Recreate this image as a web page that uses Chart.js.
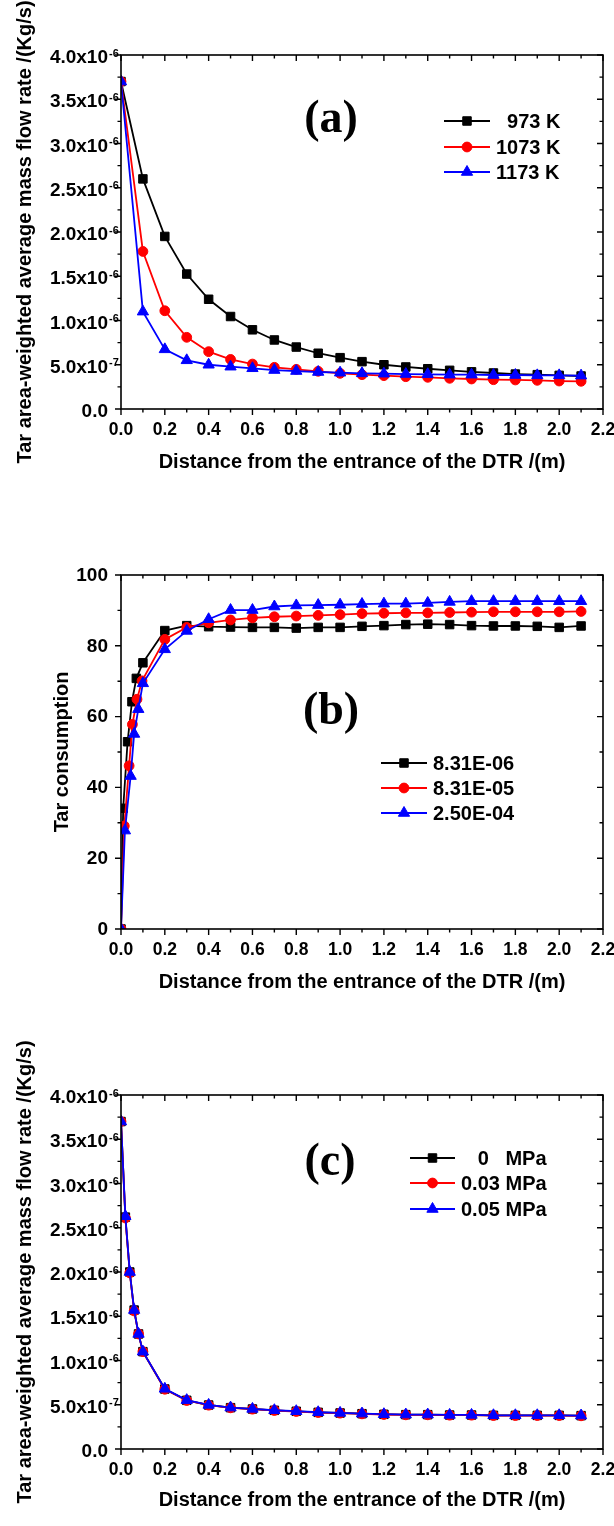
<!DOCTYPE html>
<html><head><meta charset="utf-8">
<script src="https://cdn.jsdelivr.net/npm/chart.js@4.4.1/dist/chart.umd.min.js"></script>
<style>
html,body{margin:0;padding:0;background:#fff;width:614px;height:1526px;overflow:hidden}
canvas{position:absolute;left:0}
</style></head><body>
<canvas id="ca" width="614" height="510" style="top:0"></canvas>
<canvas id="cb" width="614" height="510" style="top:510px"></canvas>
<canvas id="cc" width="614" height="506" style="top:1020px"></canvas>
<script>
// ---------------- DATA ----------------
const xTickLabels = ["0.0","0.2","0.4","0.6","0.8","1.0","1.2","1.4","1.6","1.8","2.0","2.2"];
const yTickMainA = ["0.0","5.0x10","1.0x10","1.5x10","2.0x10","2.5x10","3.0x10","3.5x10","4.0x10"];
const yTickExpA  = ["","-7","-6","-6","-6","-6","-6","-6","-6"];
const yTickLabelsB = ["0","20","40","60","80","100"];

// Panel (a): mass flow rate (x10^-6 kg/s) vs distance (m)
const distA = [0,0.1,0.2,0.3,0.4,0.5,0.6,0.7,0.8,0.9,1.0,1.1,1.2,1.3,1.4,1.5,1.6,1.7,1.8,1.9,2.0,2.1];
const flow973  = [3.70,2.60,1.95,1.525,1.24,1.045,0.895,0.78,0.70,0.63,0.58,0.535,0.50,0.475,0.455,0.437,0.42,0.407,0.395,0.388,0.38,0.373];
const flow1073 = [3.70,1.78,1.11,0.81,0.648,0.56,0.508,0.471,0.448,0.426,0.403,0.388,0.377,0.365,0.358,0.347,0.339,0.331,0.328,0.324,0.316,0.313];
const flow1173 = [3.70,1.10,0.674,0.55,0.50,0.478,0.46,0.44,0.429,0.418,0.41,0.403,0.399,0.395,0.392,0.388,0.388,0.384,0.384,0.38,0.38,0.377];

// Panel (b): tar consumption vs distance (m)
const distB1 = [0,0.01,0.03,0.05,0.07,0.1,0.2,0.3,0.4,0.5,0.6,0.7,0.8,0.9,1.0,1.1,1.2,1.3,1.4,1.5,1.6,1.7,1.8,1.9,2.0,2.1];
const cons1  = [0,34.1,52.9,64.2,70.8,75.2,84.3,85.7,85.4,85.3,85.2,85.2,85.0,85.2,85.2,85.5,85.7,86.0,86.1,86.0,85.7,85.6,85.6,85.5,85.2,85.6];
const distB2 = [0,0.015,0.037,0.052,0.073,0.096,0.2,0.3,0.4,0.5,0.6,0.7,0.8,0.9,1.0,1.1,1.2,1.3,1.4,1.5,1.6,1.7,1.8,1.9,2.0,2.1];
const cons2  = [0,29.1,46.1,57.8,64.9,70.1,81.8,85.2,86.5,87.3,87.9,88.2,88.4,88.6,88.8,89.1,89.2,89.3,89.3,89.4,89.5,89.6,89.6,89.6,89.6,89.7];
const distB3 = [0,0.018,0.044,0.06,0.079,0.1,0.2,0.3,0.4,0.5,0.6,0.7,0.8,0.9,1.0,1.1,1.2,1.3,1.4,1.5,1.6,1.7,1.8,1.9,2.0,2.1];
const cons3  = [0,27.8,43.2,55.1,62.1,69.4,79.0,84.2,87.5,90.1,90.1,91.1,91.4,91.5,91.6,91.8,91.9,91.9,92.1,92.4,92.6,92.6,92.6,92.6,92.6,92.6];

// Panel (c): mass flow rate (x10^-6 kg/s) vs distance (m)
const distC = [0,0.02,0.04,0.06,0.08,0.1,0.2,0.3,0.4,0.5,0.6,0.7,0.8,0.9,1.0,1.1,1.2,1.3,1.4,1.5,1.6,1.7,1.8,1.9,2.0,2.1];
const flow0MPa   = [3.70,2.62,2.00,1.57,1.30,1.10,0.678,0.55,0.497,0.467,0.452,0.437,0.426,0.414,0.407,0.399,0.392,0.388,0.388,0.384,0.384,0.380,0.380,0.380,0.380,0.377];
const flow003MPa = [3.70,2.61,1.99,1.56,1.30,1.10,0.675,0.548,0.495,0.465,0.450,0.435,0.424,0.412,0.405,0.397,0.390,0.386,0.386,0.382,0.382,0.378,0.378,0.378,0.378,0.375];
const flow005MPa = [3.70,2.63,2.00,1.57,1.30,1.10,0.680,0.552,0.498,0.468,0.453,0.438,0.427,0.415,0.408,0.400,0.393,0.389,0.389,0.385,0.385,0.381,0.381,0.381,0.381,0.378];

const namesA = ["  973 K","1073 K","1173 K"];
const namesB = ["8.31E-06","8.31E-05","2.50E-04"];
const namesC = ["   0   MPa","0.03 MPa","0.05 MPa"];

// ---------------- STYLE / BUILD ----------------
const SANS = "'Liberation Sans', Arial, sans-serif";
const SERIF = "'Liberation Serif', 'Times New Roman', serif";
const STY = [
  {color:'#000000', style:'rect', r:6.0, order:3},
  {color:'#ff0000', style:'circle', r:4.9, order:2},
  {color:'#0000ff', style:'triangle', r:6.5, order:1}
];
const LW = 1.8;

function ds(label, xs, ys, k){
  const s = STY[k];
  return {label, data: xs.map((x,i)=>({x, y: ys[i]})), borderColor:s.color, backgroundColor:s.color,
    pointBackgroundColor:s.color, pointBorderColor:s.color, pointStyle:s.style, pointRadius:s.r,
    pointHoverRadius:s.r, pointBorderWidth:1, borderWidth:LW, showLine:true, tension:0, order:s.order};
}

function drawMarker(ctx, style, r, x, y){
  ctx.beginPath();
  if(style==='rect'){const s=Math.SQRT1_2*r; ctx.rect(x-s,y-s,2*s,2*s);}
  else if(style==='circle'){ctx.arc(x,y,r,0,Math.PI*2);}
  else {
    const a1=2*Math.PI/3, a2=4*Math.PI/3;
    ctx.moveTo(x, y-r);
    ctx.lineTo(x+Math.sin(a1)*r, y-Math.cos(a1)*r);
    ctx.lineTo(x+Math.sin(a2)*r, y-Math.cos(a2)*r);
    ctx.closePath();
  }
  ctx.fill(); ctx.stroke();
}

function panelPlugin(p){
  return {
    id:'panel_'+p.id,
    afterDraw(chart){
      const {ctx, chartArea:a, scales:{x, y}} = chart;
      ctx.save();
      // frame
      ctx.strokeStyle='#000'; ctx.lineWidth=1.6;
      ctx.strokeRect(a.left, a.top, a.right-a.left, a.bottom-a.top);
      // ticks (major + one minor between majors)
      ctx.lineWidth=1.4;
      ctx.beginPath();
      const xt = x.ticks.map(t=>t.value), yt = y.ticks.map(t=>t.value);
      const MJ=6, MN=3.5;
      xt.forEach((v,i)=>{
        const px=x.getPixelForValue(v);
        ctx.moveTo(px,a.bottom); ctx.lineTo(px,a.bottom+MJ);
        ctx.moveTo(px,a.top); ctx.lineTo(px,a.top+MJ);
        if(i<xt.length-1){
          const pm=x.getPixelForValue((v+xt[i+1])/2);
          ctx.moveTo(pm,a.bottom); ctx.lineTo(pm,a.bottom+MN);
          ctx.moveTo(pm,a.top); ctx.lineTo(pm,a.top+MN);
        }
      });
      yt.forEach((v,i)=>{
        const py=y.getPixelForValue(v);
        ctx.moveTo(a.left,py); ctx.lineTo(a.left-MJ,py);
        ctx.moveTo(a.right,py); ctx.lineTo(a.right-MJ,py);
        if(i<yt.length-1){
          const pm=y.getPixelForValue((v+yt[i+1])/2);
          ctx.moveTo(a.left,pm); ctx.lineTo(a.left-MN,pm);
          ctx.moveTo(a.right,pm); ctx.lineTo(a.right-MN,pm);
        }
      });
      ctx.stroke();
      // superscripts on y tick labels
      if(p.yExp){
        ctx.fillStyle='#000'; ctx.textAlign='left'; ctx.textBaseline='middle';
        ctx.font='bold 11px '+SANS;
        yt.forEach((v,i)=>{
          if(!p.yExp[i]) return;
          const py=y.getPixelForValue(v);
          ctx.fillText(p.yExp[i], a.left-12, py-1.5);
        });
      }
      // legend
      const L=p.legend;
      chart.data.datasets.forEach((d,i)=>{
        const ry=L.rows[i], s=STY[i];
        ctx.strokeStyle=s.color; ctx.fillStyle=s.color; ctx.lineWidth=LW;
        ctx.beginPath(); ctx.moveTo(L.x0,ry); ctx.lineTo(L.x1,ry); ctx.stroke();
        ctx.lineWidth=1;
        drawMarker(ctx, s.style, s.r, (L.x0+L.x1)/2, ry);
        ctx.fillStyle='#000'; ctx.font='bold 20px '+SANS; ctx.textAlign='left'; ctx.textBaseline='middle';
        ctx.fillText(d.label, L.tx, ry+1);
      });
      // panel label
      ctx.fillStyle='#000'; ctx.font='bold 46px '+SERIF; ctx.textAlign='center'; ctx.textBaseline='middle';
      ctx.fillText(p.label.text, p.label.x, p.label.y);
      ctx.restore();
    }
  };
}

function makeChart(p){
  const H = document.getElementById(p.canvas).height;
  return new Chart(document.getElementById(p.canvas), {
    type:'scatter',
    data:{datasets:p.datasets},
    options:{
      responsive:false, animation:false, devicePixelRatio:1,
      layout:{padding:{top:p.top, right:11, left:0, bottom:0}},
      plugins:{legend:{display:false}, tooltip:{enabled:false}},
      scales:{
        x:{type:'linear', min:0, max:2.2,
           ticks:{stepSize:0.2, autoSkip:false, maxRotation:0, padding:11, color:'#000',
                  font:{family:SANS, size:17.5, weight:'bold'}, callback:(v,i)=>xTickLabels[i]},
           grid:{display:false, drawTicks:false}, border:{display:false},
           title:{display:true, text:'Distance from the entrance of the DTR /(m)', color:'#000',
                  font:{family:SANS, size:20, weight:'bold'}, padding:{top:0,bottom:p.xTitlePad}},
           afterFit:(s)=>{s.height = H - p.bottom; s.paddingLeft = 0; s.paddingRight = 0;}},
        y:{type:'linear', min:p.yMin, max:p.yMax,
           ticks:{stepSize:p.yStep, autoSkip:false, padding:13, color:'#000', labelOffset:p.yLabelOffset,
                  font:{family:SANS, size:19, weight:'bold'}, callback:(v,i)=>p.yLabels[i]},
           grid:{display:false, drawTicks:false}, border:{display:false},
           title:{display:true, text:p.yTitle, color:'#000',
                  font:{family:SANS, size:20, weight:'bold'}, padding:{top:p.yTitlePad,bottom:0}},
           afterFit:(s)=>{s.width = 121; s.paddingTop = 0; s.paddingBottom = 0;}}
      }
    },
    plugins:[panelPlugin(p)]
  });
}

makeChart({id:'a', canvas:'ca', top:55, bottom:409, xTitlePad:36,
  yMin:0, yMax:4, yStep:0.5, yLabels:yTickMainA, yExp:yTickExpA, yTitlePad:13, yLabelOffset:3,
  yTitle:'Tar area-weighted average mass flow rate /(Kg/s)',
  datasets:[ds(namesA[0],distA,flow973,0), ds(namesA[1],distA,flow1073,1), ds(namesA[2],distA,flow1173,2)],
  legend:{x0:444, x1:490, tx:496, rows:[121,147,172]},
  label:{text:'(a)', x:331, y:120}});

makeChart({id:'b', canvas:'cb', top:65, bottom:419, xTitlePad:26,
  yMin:0, yMax:100, yStep:20, yLabels:yTickLabelsB, yExp:null, yTitlePad:50, yLabelOffset:0.5,
  yTitle:'Tar consumption',
  datasets:[ds(namesB[0],distB1,cons1,0), ds(namesB[1],distB2,cons2,1), ds(namesB[2],distB3,cons3,2)],
  legend:{x0:381, x1:427, tx:433, rows:[253,278,303]},
  label:{text:'(b)', x:331, y:202}});

makeChart({id:'c', canvas:'cc', top:75, bottom:429, xTitlePad:14,
  yMin:0, yMax:4, yStep:0.5, yLabels:yTickMainA, yExp:yTickExpA, yTitlePad:13, yLabelOffset:3,
  yTitle:'Tar area-weighted average mass flow rate /(Kg/s)',
  datasets:[ds(namesC[0],distC,flow0MPa,0), ds(namesC[1],distC,flow003MPa,1), ds(namesC[2],distC,flow005MPa,2)],
  legend:{x0:410, x1:455, tx:461, rows:[138,163,189]},
  label:{text:'(c)', x:330, y:143}});
</script>
</body></html>
